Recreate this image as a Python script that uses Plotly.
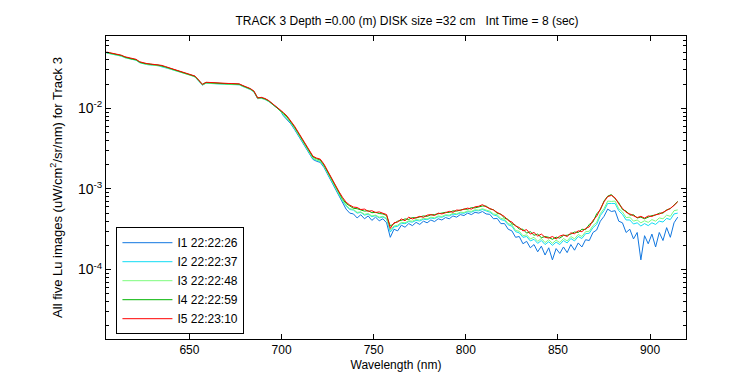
import plotly.graph_objects as go

# Wavelength grid (nm), 2 nm spacing
wavelength = list(range(605, 917, 2))

# log10 of Lu (uW/cm^2/sr/nm)
lu_i5_log10 = [
    -1.301, -1.311, -1.321, -1.329, -1.340, -1.360, -1.373, -1.385, -1.391, -1.422,
    -1.437, -1.445, -1.450, -1.455, -1.458, -1.467, -1.482, -1.497, -1.511, -1.524,
    -1.538, -1.550, -1.564, -1.578, -1.599, -1.648, -1.704, -1.676, -1.680, -1.683,
    -1.686, -1.688, -1.689, -1.691, -1.692, -1.693, -1.696, -1.717, -1.735, -1.754,
    -1.785, -1.872, -1.863, -1.878, -1.903, -1.940, -1.971, -2.009,
    -2.052, -2.096, -2.152, -2.220, -2.294, -2.369, -2.456, -2.530, -2.593, -2.617,
    -2.630, -2.692, -2.779, -2.866, -2.953,
    -3.027, -3.102, -3.164, -3.200, -3.225, -3.230, -3.255, -3.250, -3.278, -3.270,
    -3.292, -3.285, -3.300, -3.318,
    -3.490, -3.420, -3.410, -3.372, -3.395, -3.350, -3.372, -3.355, -3.340, -3.352,
    -3.325, -3.318, -3.330, -3.300, -3.310, -3.295, -3.278, -3.290, -3.262, -3.265,
    -3.250, -3.238, -3.250, -3.222, -3.215, -3.195,
    -3.222, -3.240, -3.262, -3.290, -3.318, -3.342, -3.392, -3.410, -3.462, -3.478,
    -3.520, -3.505, -3.560, -3.540, -3.585, -3.560, -3.600, -3.610, -3.590, -3.620,
    -3.585, -3.570, -3.590, -3.545, -3.555, -3.520, -3.530, -3.490, -3.470, -3.390,
    -3.340, -3.245, -3.160, -3.095, -3.080, -3.110, -3.185, -3.240, -3.290, -3.310,
    -3.330, -3.355, -3.340, -3.362, -3.335, -3.342, -3.318, -3.312, -3.290, -3.270,
    -3.240, -3.205, -3.160,
]

lu_i4_log10 = [
    -1.305, -1.315, -1.325, -1.333, -1.344, -1.364, -1.379, -1.389, -1.396, -1.426,
    -1.441, -1.449, -1.454, -1.459, -1.462, -1.471, -1.486, -1.501, -1.515, -1.528,
    -1.542, -1.554, -1.568, -1.582, -1.603, -1.652, -1.700, -1.680, -1.684, -1.687,
    -1.690, -1.692, -1.693, -1.695, -1.696, -1.697, -1.700, -1.721, -1.739, -1.758,
    -1.790, -1.868, -1.868, -1.882, -1.907, -1.945, -1.976, -2.014,
    -2.062, -2.106, -2.162, -2.230, -2.304, -2.379, -2.466, -2.540, -2.603, -2.625,
    -2.640, -2.702, -2.789, -2.876, -2.963,
    -3.040, -3.120, -3.180, -3.215, -3.240, -3.245, -3.262, -3.275, -3.270, -3.295,
    -3.290, -3.305, -3.310, -3.330,
    -3.460, -3.430, -3.400, -3.390, -3.372, -3.378, -3.355, -3.360, -3.345, -3.335,
    -3.340, -3.322, -3.318, -3.310, -3.302, -3.290, -3.292, -3.272, -3.275, -3.258,
    -3.250, -3.252, -3.232, -3.235, -3.222, -3.212,
    -3.212, -3.248, -3.258, -3.302, -3.312, -3.362, -3.378, -3.432, -3.450, -3.498,
    -3.500, -3.548, -3.530, -3.575, -3.560, -3.605, -3.590, -3.600, -3.625, -3.598,
    -3.610, -3.578, -3.575, -3.560, -3.535, -3.540, -3.500, -3.505, -3.440, -3.410,
    -3.310, -3.260, -3.150, -3.090, -3.070, -3.125, -3.170, -3.255, -3.275, -3.325,
    -3.320, -3.360, -3.350, -3.370, -3.345, -3.330, -3.325, -3.300, -3.300, -3.260,
    -3.245, -3.200, -3.155,
]

lu_i3_log10 = [
    -1.311, -1.321, -1.331, -1.339, -1.350, -1.370, -1.383, -1.395, -1.401, -1.432,
    -1.447, -1.455, -1.460, -1.465, -1.468, -1.477, -1.492, -1.507, -1.521, -1.534,
    -1.548, -1.560, -1.574, -1.588, -1.609, -1.658, -1.710, -1.686, -1.690, -1.693,
    -1.696, -1.698, -1.699, -1.701, -1.702, -1.703, -1.706, -1.727, -1.745, -1.764,
    -1.795, -1.878, -1.873, -1.888, -1.913, -1.950, -1.981, -2.019,
    -2.077, -2.121, -2.177, -2.245, -2.319, -2.394, -2.481, -2.555, -2.618, -2.642,
    -2.655, -2.717, -2.804, -2.891, -2.978,
    -3.060, -3.140, -3.200, -3.245, -3.255, -3.290, -3.285, -3.315, -3.305, -3.335,
    -3.325, -3.350, -3.340, -3.365,
    -3.510, -3.460, -3.450, -3.415, -3.420, -3.395, -3.400, -3.380, -3.385, -3.365,
    -3.372, -3.350, -3.358, -3.335, -3.342, -3.320, -3.325, -3.302, -3.308, -3.288,
    -3.292, -3.272, -3.278, -3.258, -3.262, -3.245, -3.262, -3.275, -3.310, -3.320,
    -3.365, -3.375, -3.430, -3.445, -3.515, -3.525, -3.580, -3.570, -3.620, -3.600,
    -3.650, -3.615, -3.665, -3.630, -3.675, -3.635, -3.665, -3.615, -3.645, -3.590,
    -3.620, -3.565, -3.590, -3.530, -3.525, -3.455, -3.415, -3.305, -3.245, -3.150,
    -3.155, -3.150, -3.245, -3.285, -3.355, -3.350, -3.400, -3.385, -3.420, -3.395,
    -3.415, -3.380, -3.400, -3.360, -3.370, -3.325, -3.340, -3.270, -3.260,
]

lu_i2_log10 = [
    -1.313, -1.323, -1.333, -1.341, -1.352, -1.372, -1.385, -1.397, -1.403, -1.434,
    -1.449, -1.457, -1.462, -1.467, -1.470, -1.485, -1.494, -1.509, -1.523, -1.536,
    -1.550, -1.562, -1.576, -1.590, -1.611, -1.660, -1.712, -1.688, -1.692, -1.695,
    -1.698, -1.700, -1.701, -1.703, -1.704, -1.705, -1.708, -1.729, -1.747, -1.766,
    -1.797, -1.880, -1.875, -1.890, -1.915, -1.952, -1.983, -2.021,
    -2.082, -2.126, -2.182, -2.250, -2.324, -2.399, -2.486, -2.560, -2.623, -2.647,
    -2.660, -2.722, -2.809, -2.896, -2.983,
    -3.065, -3.150, -3.210, -3.255, -3.262, -3.300, -3.290, -3.325, -3.312, -3.345,
    -3.330, -3.360, -3.348, -3.372,
    -3.535, -3.470, -3.465, -3.425, -3.432, -3.405, -3.412, -3.390, -3.398, -3.375,
    -3.382, -3.360, -3.368, -3.345, -3.352, -3.330, -3.335, -3.312, -3.318, -3.298,
    -3.302, -3.282, -3.288, -3.268, -3.272, -3.255, -3.272, -3.288, -3.322, -3.335,
    -3.380, -3.392, -3.445, -3.462, -3.530, -3.545, -3.600, -3.590, -3.645, -3.625,
    -3.675, -3.640, -3.690, -3.655, -3.700, -3.660, -3.690, -3.640, -3.670, -3.615,
    -3.645, -3.590, -3.615, -3.555, -3.550, -3.480, -3.440, -3.330, -3.270, -3.180,
    -3.180, -3.180, -3.270, -3.315, -3.385, -3.385, -3.435, -3.420, -3.460, -3.430,
    -3.455, -3.420, -3.440, -3.400, -3.410, -3.365, -3.380, -3.310, -3.300,
]

lu_i1_log10 = [
    -1.307, -1.317, -1.327, -1.335, -1.346, -1.366, -1.379, -1.391, -1.397, -1.428,
    -1.443, -1.451, -1.456, -1.461, -1.464, -1.473, -1.488, -1.503, -1.517, -1.530,
    -1.544, -1.556, -1.570, -1.584, -1.605, -1.654, -1.710, -1.682, -1.686, -1.689,
    -1.692, -1.694, -1.695, -1.697, -1.698, -1.699, -1.702, -1.723, -1.741, -1.760,
    -1.791, -1.878, -1.869, -1.884, -1.909, -1.946, -1.977, -2.015,
    -2.092, -2.136, -2.192, -2.260, -2.334, -2.409, -2.496, -2.570, -2.633, -2.657,
    -2.670, -2.732, -2.819, -2.906, -2.993,
    -3.090, -3.180, -3.250, -3.300, -3.310, -3.360, -3.320, -3.370, -3.335, -3.390,
    -3.350, -3.395, -3.370, -3.420,
    -3.600, -3.500, -3.520, -3.450, -3.475, -3.430, -3.455, -3.415, -3.440, -3.400,
    -3.420, -3.385, -3.405, -3.370, -3.385, -3.355, -3.370, -3.335, -3.350, -3.318,
    -3.330, -3.300, -3.318, -3.290, -3.300, -3.280, -3.310, -3.315, -3.370, -3.365,
    -3.430, -3.430, -3.500, -3.520, -3.600, -3.590, -3.680, -3.650, -3.730, -3.690,
    -3.780, -3.710, -3.820, -3.730, -3.880, -3.740, -3.800, -3.720, -3.790, -3.690,
    -3.760, -3.670, -3.720, -3.630, -3.640, -3.540, -3.510, -3.400, -3.340, -3.250,
    -3.280, -3.270, -3.400, -3.420, -3.540, -3.500, -3.620, -3.540, -3.880, -3.580,
    -3.680, -3.560, -3.720, -3.540, -3.640, -3.480, -3.600, -3.420, -3.350,
]

series_names = ["I1 22:22:26", "I2 22:22:37", "I3 22:22:48", "I4 22:22:59", "I5 22:23:10"]
series_log10 = [lu_i1_log10, lu_i2_log10, lu_i3_log10, lu_i4_log10, lu_i5_log10]
series_colors = ["#1177e0", "#10dcf4", "#7dfc7d", "#00b400", "#ff0000"]

y_tick_vals = [1e-4, 1e-3, 1e-2]
y_tick_text = ["10<sup>-4</sup>", "10<sup>-3</sup>", "10<sup>-2</sup>"]
x_tick_vals = [650, 700, 750, 800, 850, 900]

for s in series_log10:
    assert len(s) == len(wavelength), len(s)

FONT = "Liberation Sans, Arial, sans-serif"

fig = go.Figure()
for name, vals, col in zip(series_names, series_log10, series_colors):
    fig.add_trace(go.Scatter(
        x=wavelength,
        y=[10 ** v for v in vals],
        mode="lines",
        name=name,
        line=dict(color=col, width=1),
    ))

minor_vals = [m * 10 ** e for e in range(-5, 0) for m in range(2, 10)]

fig.update_layout(
    width=750, height=375, autosize=False,
    margin=dict(l=98, r=72, t=28, b=44),
    paper_bgcolor="white", plot_bgcolor="white",
    font=dict(family=FONT, size=12, color="black"),
    title=dict(
        text="TRACK 3 Depth =0.00 (m) DISK size =32 cm   Int Time = 8 (sec)",
        x=0.519, xref="paper", xanchor="center",
        y=0.966, yref="container", yanchor="middle",
        font=dict(family=FONT, size=12, color="black"),
    ),
    showlegend=True,
    legend=dict(
        x=0.018, y=0.369, xanchor="left", yanchor="top",
        bgcolor="white", bordercolor="black", borderwidth=1,
        font=dict(family=FONT, size=12, color="black"),
        itemwidth=50,
        tracegroupgap=0,
    ),
)

fig.update_xaxes(
    range=[604.7, 919.5],
    tickmode="array", tickvals=x_tick_vals,
    ticks="inside", ticklen=5, tickcolor="black",
    showline=True, linecolor="black", linewidth=1, mirror="ticks",
    showgrid=False, zeroline=False,
    tickfont=dict(family=FONT, size=12, color="black"),
    title=dict(text="Wavelength (nm)", standoff=4,
               font=dict(family=FONT, size=12, color="black")),
)

fig.update_yaxes(
    type="log",
    range=[-4.862, -1.102],
    tickmode="array", tickvals=y_tick_vals, ticktext=y_tick_text,
    ticks="inside", ticklen=5, tickcolor="black",
    minor=dict(tickmode="array", tickvals=minor_vals, ticks="inside",
               ticklen=3, tickcolor="black", showgrid=False),
    showline=True, linecolor="black", linewidth=1, mirror="ticks",
    showgrid=False, zeroline=False,
    tickfont=dict(family=FONT, size=14, color="black"),
    title=dict(text="All five Lu images (uW/cm<sup>2</sup>/sr/nm) for Track 3",
               standoff=12, font=dict(family=FONT, size=13, color="black")),
)

fig.write_html("out.html")
